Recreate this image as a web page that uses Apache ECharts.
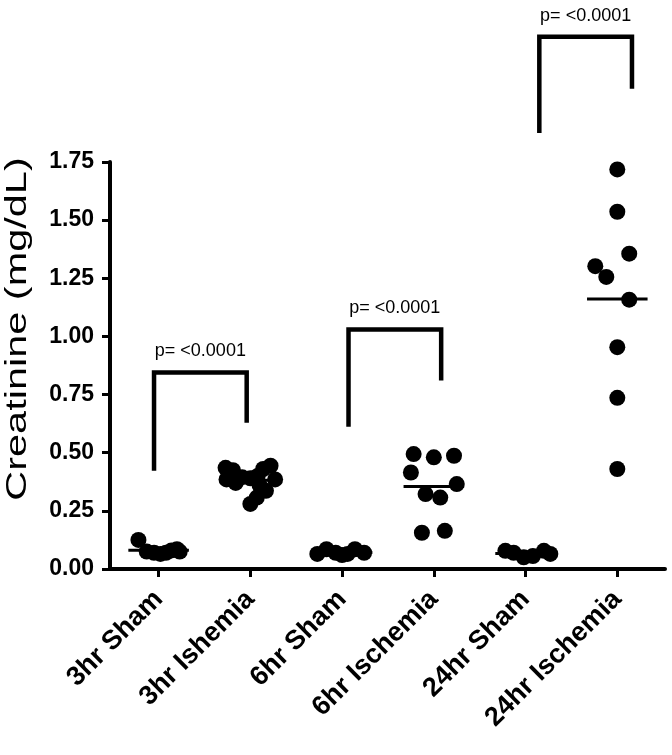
<!DOCTYPE html>
<html><head><meta charset="utf-8">
<script src="https://cdn.jsdelivr.net/npm/echarts@6/dist/echarts.min.js"></script>
<style>html,body{margin:0;padding:0;background:#fff}#c{width:672px;height:755px}</style>
</head><body><div id="c"></div>
<script>
// ---- data ----
const categories = ['3hr Sham', '3hr Ishemia', '6hr Sham', '6hr Ischemia', '24hr Sham', '24hr Ischemia'];
const yTickValues = [0, 0.25, 0.5, 0.75, 1.0, 1.25, 1.5, 1.75];
const pLabel = 'p= <0.0001';

const sham3hrValues   = [0.125, 0.075, 0.07, 0.065, 0.07, 0.08, 0.085, 0.075];
const sham3hrJitter   = [-0.22, -0.13, -0.05, 0.02, 0.08, 0.14, 0.2, 0.23];
const isch3hrValues   = [0.435, 0.425, 0.385, 0.444, 0.43, 0.385, 0.395, 0.39, 0.40, 0.37, 0.36, 0.336, 0.307, 0.28];
const isch3hrJitter   = [-0.27, -0.19, -0.26, 0.22, 0.14, 0.27, -0.09, 0.0, 0.08, -0.16, 0.1, 0.17, 0.07, 0.0];
const sham6hrValues   = [0.065, 0.085, 0.07, 0.06, 0.065, 0.085, 0.07];
const sham6hrJitter   = [-0.27, -0.17, -0.07, 0.0, 0.06, 0.14, 0.24];
const isch6hrValues   = [0.494, 0.48, 0.487, 0.415, 0.365, 0.322, 0.307, 0.156, 0.164];
const isch6hrJitter   = [-0.22, 0.0, 0.22, -0.25, 0.25, -0.09, 0.07, -0.13, 0.12];
const sham24hrValues  = [0.078, 0.07, 0.05, 0.056, 0.078, 0.065];
const sham24hrJitter  = [-0.22, -0.13, -0.02, 0.08, 0.2, 0.27];
const isch24hrValues  = [1.718, 1.536, 1.356, 1.302, 1.256, 1.158, 0.954, 0.736, 0.430];
const isch24hrJitter  = [0.0, 0.0, 0.13, -0.24, -0.12, 0.13, 0.0, 0.0, 0.0];

// brackets: [leftX, rightX, topValue, leftLegBottom, rightLegBottom]
const bracket3hr  = [-0.05, 0.96, 0.845, 0.422, 0.629];
const bracket6hr  = [2.07, 3.08, 1.030, 0.612, 0.810];
const bracket24hr = [4.15, 5.16, 2.289, 1.875, 2.065];

// ---- build ----
const groups = [
  [sham3hrValues, sham3hrJitter], [isch3hrValues, isch3hrJitter],
  [sham6hrValues, sham6hrJitter], [isch6hrValues, isch6hrJitter],
  [sham24hrValues, sham24hrJitter], [isch24hrValues, isch24hrJitter]
];
const points = [];
const means = [];
groups.forEach(([vals, jit], i) => {
  vals.forEach((v, k) => points.push([i + jit[k], v]));
  means.push([i, vals.reduce((a, b) => a + b, 0) / vals.length]);
});
const brackets = [bracket3hr, bracket6hr, bracket24hr];
const catIdx = categories.map((_, i) => i);

const FONT = '"Liberation Sans", Arial, Helvetica, sans-serif';
const chart = echarts.init(document.getElementById('c'), null, {renderer: 'canvas'});
chart.setOption({
  animation: false,
  backgroundColor: '#fff',
  grid: {left: 110, right: 7, top: 162, bottom: 186, containLabel: false},
  xAxis: {
    type: 'value', min: -0.53, max: 5.52,
    axisLine: {show: true, onZero: false, lineStyle: {color: '#000', width: 4}},
    axisTick: {show: true, customValues: catIdx, length: 8, lineStyle: {color: '#000', width: 3}},
    axisLabel: {
      customValues: catIdx, formatter: v => categories[Math.round(v)] || '',
      rotate: 45, margin: 26, color: '#000', fontSize: 27, fontWeight: 'bold', fontFamily: FONT
    },
    splitLine: {show: false}
  },
  yAxis: {
    type: 'value', min: 0, max: 1.75, interval: 0.25,
    axisLine: {show: true, onZero: false, lineStyle: {color: '#000', width: 4}},
    axisTick: {show: true, length: 8, lineStyle: {color: '#000', width: 3}},
    axisLabel: {
      customValues: yTickValues, formatter: v => v.toFixed(2), margin: 16,
      color: '#000', fontSize: 23, fontWeight: 'bold', fontFamily: FONT
    },
    splitLine: {show: false}
  },
  graphic: [{
    type: 'text', x: 18, y: 329, rotation: Math.PI / 2, scaleX: 1.43,
    style: {text: 'Creatinine (mg/dL)', font: '29px ' + FONT, fill: '#000', align: 'center', verticalAlign: 'middle'}
  }],
  series: [
    {
      type: 'scatter', data: points, symbol: 'circle', symbolSize: 16,
      itemStyle: {color: '#000', opacity: 1}, z: 3
    },
    {
      type: 'custom', data: means, z: 4,
      renderItem(params, api) {
        const i = api.value(0), m = api.value(1);
        const a = api.coord([i - 0.33, m]), b = api.coord([i + 0.33, m]);
        return {type: 'line', shape: {x1: a[0], y1: a[1], x2: b[0], y2: b[1]},
          style: {stroke: '#000', lineWidth: 3}};
      }
    },
    {
      type: 'custom', data: brackets, clip: false, z: 5,
      renderItem(params, api) {
        const x1 = api.value(0), x2 = api.value(1), top = api.value(2), lb = api.value(3), rb = api.value(4);
        const pLB = api.coord([x1, lb]), pLT = api.coord([x1, top]);
        const pRT = api.coord([x2, top]), pRB = api.coord([x2, rb]);
        return {type: 'group', children: [
          {type: 'polyline', shape: {points: [pLB, pLT, pRT, pRB]},
            style: {stroke: '#000', lineWidth: 4.5, fill: null, lineJoin: 'miter', lineCap: 'butt'}},
          {type: 'text', style: {x: (pLT[0] + pRT[0]) / 2, y: pLT[1] - 21, text: pLabel,
            font: '18px ' + FONT, fill: '#000', align: 'center', verticalAlign: 'middle'}}
        ]};
      }
    }
  ]
});
</script></body></html>
